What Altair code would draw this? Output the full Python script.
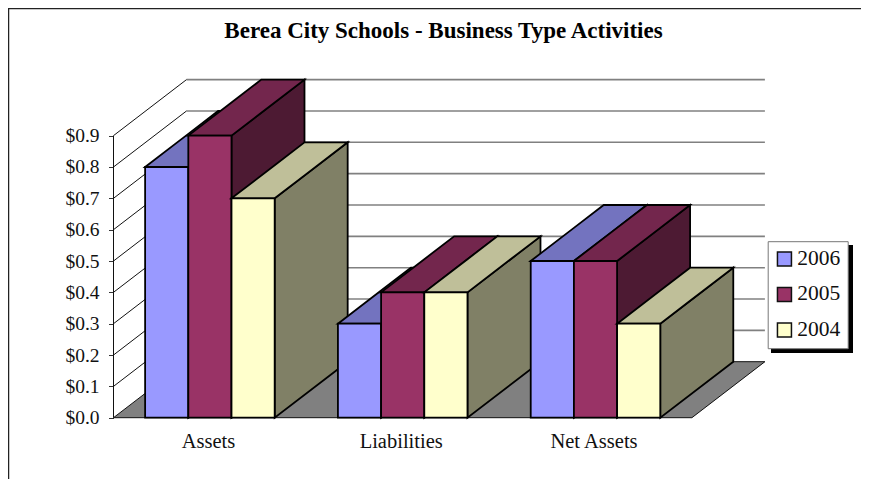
import altair as alt
import pandas as pd

TITLE = "Berea City Schools - Business Type Activities"
categories = ["Assets", "Liabilities", "Net Assets"]
series = ["2006", "2005", "2004"]
values_2006 = [0.8, 0.3, 0.5]
values_2005 = [0.9, 0.4, 0.5]
values_2004 = [0.7, 0.4, 0.3]
y_ticks = [0.0, 0.1, 0.2, 0.3, 0.4, 0.5, 0.6, 0.7, 0.8, 0.9]
front_colors = ["#9999FF", "#993366", "#FFFFCC"]
top_colors = ["#7373BF", "#73264D", "#BFBF99"]
side_colors = ["#4D4D80", "#4D1A33", "#808066"]
FONT = "Liberation Serif"

W, H = 853, 471
X0, Y0 = 105.5, 409.7          # wall corner inside the plot area
X_UNIT, Y_UNIT = 192.8, 313.4  # pixels per category / per dollar
DX = 73.0 / X_UNIT             # depth of the 3-D box in x units
DY = 56.0 / Y_UNIT             # depth of the 3-D box in y units
BAR = 0.224
GAP = (1 - 3 * BAR) / 2
N = len(categories)

xs = alt.Scale(domain=[-X0 / X_UNIT, (W - X0) / X_UNIT], nice=False, zero=False)
ys = alt.Scale(domain=[-(H - Y0) / Y_UNIT, Y0 / Y_UNIT], nice=False, zero=False)
label_expr = " : ".join(
    f"datum.value < {i + 1} ? '{c}'" for i, c in enumerate(categories[:-1])
) + f" : '{categories[-1]}'"
x_axis = alt.Axis(values=[i + 0.5 for i in range(N)], labelExpr=label_expr, offset=-(H - Y0),
                  domain=False, ticks=False, grid=False, labelFont=FONT, labelFontSize=20.5,
                  labelColor="#111111", labelPadding=14, labelOffset=-2, labelAngle=0,
                  labelOverlap=False, labelFlush=False, labelBound=False, title=None)
y_axis = alt.Axis(values=y_ticks, format="$.1f", offset=-X0, domain=False, tickSize=5,
                  tickColor="#333333", grid=False, labelFont=FONT, labelFontSize=19.5,
                  labelColor="#111111", labelPadding=9.5, labelOverlap=False,
                  labelFlush=False, labelBound=False, title=None)
xe = alt.X("x:Q", scale=xs, axis=x_axis)
ye = alt.Y("y:Q", scale=ys, axis=y_axis)

# back wall gridlines
grid = pd.DataFrame({"x": [DX] * 9, "x2": [N + DX] * 9, "y": [v + DY for v in y_ticks[1:]]})
grid_layer = alt.Chart(grid).mark_rule(color="#808080", strokeWidth=1.6).encode(x=xe, x2="x2:Q", y=ye)

# left wall lines
diag_rows = []
for v in y_ticks[1:]:
    diag_rows += [{"k": v, "x": 0, "y": v}, {"k": v, "x": DX, "y": v + DY}]
diag_layer = alt.Chart(pd.DataFrame(diag_rows)).mark_line(color="#111111", strokeWidth=1).encode(
    x=xe, y=ye, detail="k:N")
wall_layer = alt.Chart(pd.DataFrame({"x": [0], "y": [0], "y2": [y_ticks[-1]]})).mark_rule(
    color="#111111", strokeWidth=1).encode(x=xe, y=ye, y2="y2:Q")

# floor
floor = pd.DataFrame({
    "x": [0, DX, N, N + DX],
    "y": [0, DY, DY, DY],
    "y2": [0, 0, 0, DY],
})
floor_layer = alt.Chart(floor).mark_area(color="#808080", stroke="#111111", strokeWidth=1,
                                         opacity=1).encode(x=xe, y=ye, y2="y2:Q")

# bars, painted from left to right
domain = list(series) + [s + " top" for s in series] + [s + " side" for s in series]
rng = front_colors + top_colors + side_colors
rows = []
fid = 0
all_values = [values_2006, values_2005, values_2004]
for c in range(N):
    for s, name in enumerate(series):
        v = all_values[s][c]
        a = c + GAP + s * BAR
        b = a + BAR
        # side
        rows += [
            {"face": fid, "shade": name + " side", "x": b, "y": v, "y2": 0},
            {"face": fid, "shade": name + " side", "x": b + DX, "y": v + DY, "y2": DY},
        ]
        fid += 1
        # top
        rows += [
            {"face": fid, "shade": name + " top", "x": a, "y": v, "y2": v},
            {"face": fid, "shade": name + " top", "x": b, "y": v + DY * BAR / DX, "y2": v},
            {"face": fid, "shade": name + " top", "x": a + DX, "y": v + DY, "y2": v + DY * (DX - BAR) / DX},
            {"face": fid, "shade": name + " top", "x": b + DX, "y": v + DY, "y2": v + DY},
        ]
        fid += 1
        # front
        rows += [
            {"face": fid, "shade": name, "x": a, "y": v, "y2": 0},
            {"face": fid, "shade": name, "x": b, "y": v, "y2": 0},
        ]
        fid += 1
faces = pd.DataFrame(rows)
legend = alt.Legend(values=series, title=None, orient="none", legendX=759.7, legendY=233.2,
                    symbolType="square", symbolSize=196, symbolStrokeWidth=1.5,
                    symbolStrokeColor="#111111", symbolOffset=-1, labelFont=FONT, labelFontSize=21.5,
                    labelColor="#111111", labelOffset=2, rowPadding=12.5, padding=7,
                    fillColor="white", strokeColor="#777777", symbolOpacity=1)
face_layer = alt.Chart(faces).mark_area(stroke="black", strokeWidth=1.8, opacity=1,
                                        strokeJoin="miter").encode(
    x=xe, y=ye, y2="y2:Q",
    fill=alt.Fill("shade:N", scale=alt.Scale(domain=domain, range=rng), legend=legend),
    detail="face:N",
)

shadow = alt.Chart(pd.DataFrame({"a": [0]})).mark_rect(color="black").encode(
    x=alt.value(763), x2=alt.value(845), y=alt.value(237), y2=alt.value(345))
frame_l = alt.Chart(pd.DataFrame({"a": [0]})).mark_rule(color="#222222", strokeWidth=1.5).encode(
    x=alt.value(0.5), y=alt.value(0), y2=alt.value(H))
frame_t = alt.Chart(pd.DataFrame({"a": [0]})).mark_rule(color="#222222", strokeWidth=1.5).encode(
    x=alt.value(0), x2=alt.value(W), y=alt.value(0.5))

chart = alt.layer(
    frame_l, frame_t, grid_layer, diag_layer, wall_layer, floor_layer, face_layer, shadow
).properties(
    width=W, height=H, padding=0, autosize="none", background="white",
    title=alt.TitleParams(TITLE, font=FONT, fontSize=23, fontWeight="bold", color="black",
                          anchor="middle", offset=-36, dx=9),
).configure_view(stroke=None)

chart.save("out.html", embed_options={"renderer": "svg", "actions": False})
